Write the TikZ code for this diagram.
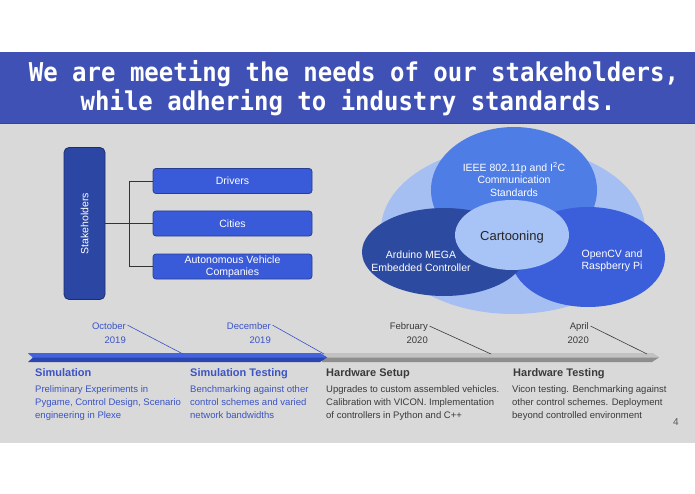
\documentclass[tikz,border=0pt]{standalone}
\usepackage{fontspec}
\setmainfont{Liberation Sans}
\newfontfamily\titlefont{DejaVu Sans Mono}
\usetikzlibrary{shapes.geometric}
\definecolor{titleblue}{HTML}{3F51B5}
\definecolor{titleedge}{HTML}{34449C}
\definecolor{bggray}{HTML}{D9D9D9}
\definecolor{stakefill}{HTML}{2B47A3}
\definecolor{stakeedge}{HTML}{1D2E6E}
\definecolor{boxfill}{HTML}{3A5BD9}
\definecolor{boxedge}{HTML}{283E8E}
\definecolor{vbgc}{HTML}{A6BFF3}
\definecolor{vtopc}{HTML}{4F7DE6}
\definecolor{vleftc}{HTML}{2C4AA0}
\definecolor{vrightc}{HTML}{3B5EDB}
\definecolor{vcenc}{HTML}{A8C3F5}
\definecolor{tlblue}{HTML}{3A53C5}
\definecolor{barbluelight}{HTML}{4364DE}
\definecolor{barbluedark}{HTML}{2A45B0}
\definecolor{bargraylight}{HTML}{C2C2C2}
\definecolor{bargraydark}{HTML}{8E8E8E}
\definecolor{darktext}{HTML}{3A3A3A}
\begin{document}
\begin{tikzpicture}[x=1pt,y=-1pt,
  titletxt/.style={inner sep=0pt, text=white, transform shape, yscale=1.08, font=\titlefont\bfseries\fontsize{24}{29}\selectfont},
  stakebox/.style={draw=stakeedge, line width=0.8pt, fill=stakefill, rounded corners=5pt, minimum width=41pt, minimum height=152pt, inner sep=0pt},
  childbox/.style={draw=boxedge, line width=0.8pt, fill=boxfill, rounded corners=3pt, minimum width=159pt, minimum height=25pt, inner sep=0pt, text=white, align=center, font=\fontsize{10.5}{12}\selectfont},
  conn/.style={draw=black!80, line width=0.8pt},
  vset/.style={ellipse, inner sep=0pt, draw=none},
  vtxt/.style={inner sep=0pt, align=center, text=white, font=\fontsize{10.5}{12.5}\selectfont},
  datetxt/.style={inner sep=0pt, font=\fontsize{9.5}{12}\selectfont},
  headtxt/.style={inner sep=0pt, font=\bfseries\fontsize{11}{13}\selectfont},
  desctxt/.style={inner sep=0pt, font=\fontsize{9.5}{13}\selectfont},
  leader/.style={line width=0.6pt}
]
\useasboundingbox (0,0) rectangle (695,494);
\fill[white] (0,0) rectangle (695,494);
\fill[bggray] (0,124) rectangle (695,443);
\fill[titleblue] (0,52) rectangle (695,124);
\draw[titleedge, line width=1pt] (0,123.5) -- (695,123.5);

% title
\node[titletxt, anchor=base] (t1) at (354,82) {We are meeting the needs of our stakeholders,};
\node[titletxt, anchor=base] (t2) at (348,111) {while adhering to industry standards.};

% stakeholders tree
\node[stakebox] (sh) at (84.5,223.5) {};
\node[inner sep=0pt, rotate=90, text=white, font=\fontsize{10.5}{12}\selectfont] (sht) at (sh.center) {Stakeholders};
\node[childbox] (drv) at (232.5,181) {Drivers};
\node[childbox] (cit) at (232.5,223.5) {Cities};
\node[childbox] (avc) at (232.5,266.5) {Autonomous Vehicle\\Companies};
\coordinate (jn) at (129,223.5);
\draw[conn] (sh.east) -- (cit.west);
\draw[conn] (drv.west) -- (drv.west -| jn) -- (avc.west -| jn) -- (avc.west);

% venn
\node[vset, fill=vbgc, minimum width=264pt, minimum height=168pt] (vbg) at (513,230) {};
\node[vset, fill=vtopc, minimum width=166pt, minimum height=126pt] (vtop) at (514,190) {};
\node[vset, fill=vrightc, minimum width=154pt, minimum height=100pt] (vright) at (588,257) {};
\node[vset, fill=vleftc, minimum width=164pt, minimum height=88pt] (vleft) at (444,252) {};
\node[vset, fill=vcenc, minimum width=114pt, minimum height=70pt] (vcen) at (512,235) {};
\node[vtxt] (vtopt) at (514,179) {IEEE 802.11p and I\textsuperscript{2}C\\Communication\\Standards};
\node[vtxt] (vleftt) at (421,261) {Arduino MEGA\\Embedded Controller};
\node[vtxt] (vrightt) at (612,261) {OpenCV and\\Raspberry Pi};
\node[inner sep=0pt, text=black!85, font=\fontsize{13}{15}\selectfont] (vcent) at (512,237) {Cartooning};

% timeline bar
\fill[bargraydark] (322,353) -- (652,353) -- (659,357.5) -- (652,362) -- (322,362) -- cycle;
\fill[bargraylight] (322,353) -- (652,353) -- (659,357.5) -- (322,357.5) -- cycle;
\fill[barbluedark] (28,353) -- (320,353) -- (327,357.5) -- (320,362) -- (28,362) -- (33,357.5) -- cycle;
\fill[barbluelight] (28,353) -- (320,353) -- (327,357.5) -- (33,357.5) -- cycle;

% dates
\node[datetxt, text=tlblue, anchor=base east] (m1) at (126,329.5) {October};
\node[datetxt, text=tlblue, anchor=base east] (y1) at (126,343) {2019};
\node[datetxt, text=tlblue, anchor=base east] (m2) at (271,329.5) {December};
\node[datetxt, text=tlblue, anchor=base east] (y2) at (271,343) {2019};
\node[datetxt, text=darktext, anchor=base east] (m3) at (428,329.5) {February};
\node[datetxt, text=darktext, anchor=base east] (y3) at (428,343) {2020};
\node[datetxt, text=darktext, anchor=base east] (m4) at (589,329.5) {April};
\node[datetxt, text=darktext, anchor=base east] (y4) at (589,343) {2020};
\coordinate (p1) at (183,354);
\coordinate (p2) at (324,354);
\coordinate (p3) at (491,354);
\coordinate (p4) at (647,354);
\draw[leader, draw=tlblue] ([xshift=1.5pt,yshift=1pt]m1.east) -- (p1);
\draw[leader, draw=tlblue] ([xshift=1.5pt,yshift=1pt]m2.east) -- (p2);
\draw[leader, draw=darktext] ([xshift=1.5pt,yshift=1pt]m3.east) -- (p3);
\draw[leader, draw=darktext] ([xshift=1.5pt,yshift=1pt]m4.east) -- (p4);

% headings
\node[headtxt, text=tlblue, anchor=base west] (h1) at (35,376) {Simulation};
\node[headtxt, text=tlblue, anchor=base west] (h2) at (190,376) {Simulation Testing};
\node[headtxt, text=darktext, anchor=base west] (h3) at (326,376) {Hardware Setup};
\node[headtxt, text=darktext, anchor=base west] (h4) at (513,376) {Hardware Testing};

% descriptions
\node[desctxt, text=tlblue, anchor=base west] (d11) at (35,392.5) {Preliminary Experiments in};
\node[desctxt, text=tlblue, anchor=base west] (d12) at (35,405.5) {Pygame, Control Design, Scenario};
\node[desctxt, text=tlblue, anchor=base west] (d13) at (35,418.5) {engineering in Plexe};
\node[desctxt, text=tlblue, anchor=base west] (d21) at (190,392.5) {Benchmarking against other};
\node[desctxt, text=tlblue, anchor=base west] (d22) at (190,405.5) {control schemes and varied};
\node[desctxt, text=tlblue, anchor=base west] (d23) at (190,418.5) {network bandwidths};
\node[desctxt, text=darktext, anchor=base west] (d31) at (326,392.5) {Upgrades to custom assembled vehicles.};
\node[desctxt, text=darktext, anchor=base west] (d32) at (326,405.5) {Calibration with VICON. Implementation};
\node[desctxt, text=darktext, anchor=base west] (d33) at (326,418.5) {of controllers in Python and C++};
\node[desctxt, text=darktext, anchor=base west] (d41) at (512,392.5) {Vicon testing. Benchmarking against};
\node[desctxt, text=darktext, anchor=base west] (d42) at (512,405.5) {other control schemes. Deployment};
\node[desctxt, text=darktext, anchor=base west] (d43) at (512,418.5) {beyond controlled environment};

% page number
\node[inner sep=0pt, text=black!65, font=\fontsize{10}{12}\selectfont] (pg) at (676,422) {4};
\end{tikzpicture}
\end{document}
